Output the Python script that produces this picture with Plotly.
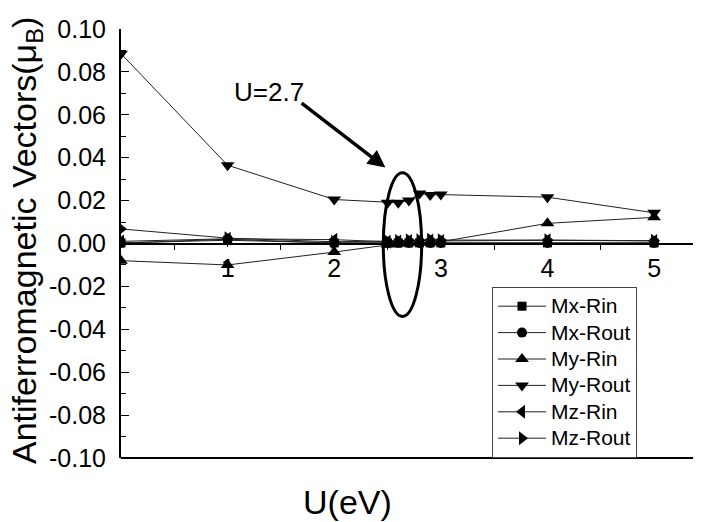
import plotly.graph_objects as go

# ---- data ----
U = [0, 1, 2, 2.5, 2.6, 2.7, 2.8, 2.9, 3, 4, 5]
mx_rin = [0.0003, 0.0015, 0.0003, 0.0003, 0.0003, 0.0003, 0.0003, 0.0003, 0.0003, 0.0003, 0.0003]
mx_rout = [0.0002, 0.002, 0.0002, 0.0002, 0.0002, 0.0002, 0.0002, 0.0002, 0.0002, 0.0002, 0.0002]
my_rin = [-0.008, -0.0100, -0.004, -0.0005, 0.0, 0.0003, 0.0005, 0.0005, 0.0008, 0.0094, 0.0122]
my_rout = [0.0885, 0.0365, 0.0205, 0.0190, 0.0190, 0.0200, 0.0233, 0.0226, 0.0228, 0.0216, 0.0143]
mz_rin = [0.001, 0.0022, 0.0018, 0.0008, 0.001, 0.0012, 0.0012, 0.0014, 0.0012, 0.0015, 0.0012]
mz_rout = [0.0068, 0.0025, 0.0008, 0.001, 0.0012, 0.0015, 0.0016, 0.0018, 0.0016, 0.0016, 0.0013]

series_names = ["Mx-Rin", "Mx-Rout", "My-Rin", "My-Rout", "Mz-Rin", "Mz-Rout"]
series_vals = [mx_rin, mx_rout, my_rin, my_rout, mz_rin, mz_rout]
symbols = ["square", "circle", "triangle-up", "triangle-down", "triangle-left", "triangle-right"]
sizes = [9, 10, 12, 12, 12, 12]

x_ticks = [1, 2, 3, 4, 5]
y_ticks = [-0.10, -0.08, -0.06, -0.04, -0.02, 0.0, 0.02, 0.04, 0.06, 0.08, 0.10]

FONT = "Liberation Sans, Arial, sans-serif"

# the page body adds an 8px offset; compensate so the plot lands where the reference has it
W, H = 693, 514
L, R, T, B = 113, 0, 21, 64
PW = W - L - R
PH = H - T - B

fig = go.Figure()
for name, vals, sym, sz in zip(series_names, series_vals, symbols, sizes):
    fig.add_trace(go.Scatter(
        x=U, y=vals, name=f'<span style="font-size:21px">{name}</span>',
        mode="lines+markers",
        line=dict(color="#222222", width=1),
        marker=dict(symbol=sym, size=sz, color="black", line=dict(width=0)),
    ))

fig.update_layout(
    width=W, height=H,
    margin=dict(l=L, r=R, t=T, b=B),
    paper_bgcolor="white", plot_bgcolor="white",
    font=dict(family=FONT, color="black"),
    showlegend=True,
    legend=dict(
        x=(492 - 121) / PW, y=(458 - 287) / PH, xanchor="left", yanchor="top",
        bordercolor="#444444", borderwidth=1, bgcolor="white",
        font=dict(size=18, family=FONT), tracegroupgap=0, itemwidth=48,
    ),
    xaxis=dict(
        range=[0, 5.44], anchor="free", position=0.5,
        showline=True, linecolor="black", linewidth=2,
        showgrid=False, zeroline=False,
        tickmode="array", tickvals=x_ticks, ticktext=[str(v) for v in x_ticks],
        ticks="outside", ticklen=2, tickwidth=1, tickcolor="black",
        tickfont=dict(size=25, family=FONT),
        minor=dict(tickmode="array", tickvals=[0.5, 1.5, 2.5, 3.5, 4.5],
                   ticks="outside", ticklen=5, tickcolor="black"),
    ),
    xaxis2=dict(
        range=[0, 5.44], overlaying="x", side="top", anchor="y",
        showline=True, linecolor="#333333", linewidth=2,
        showgrid=False, zeroline=False, showticklabels=False,
        tickmode="array", tickvals=[0.5, 1, 1.5, 2, 2.5, 3, 3.5, 4, 4.5, 5],
        ticks="inside", ticklen=4, tickcolor="black",
    ),
    yaxis=dict(
        range=[-0.1, 0.1], anchor="x",
        showline=True, linecolor="black", linewidth=2,
        showgrid=False, zeroline=False,
        tickmode="array", tickvals=y_ticks, ticktext=[f"{v:.2f}" for v in y_ticks],
        ticks="inside", ticklen=8, tickcolor="black",
        tickfont=dict(size=25, family=FONT), ticklabelstandoff=8,
        minor=dict(dtick=0.01, tick0=0, ticks="inside", ticklen=5, tickcolor="black"),
    ),
)

# bottom border of the frame
fig.add_shape(type="line", xref="paper", yref="paper", x0=0, x1=1, y0=0, y1=0,
              line=dict(color="black", width=2))

# ellipse around U=2.5..3
fig.add_shape(type="circle", xref="x", yref="y", x0=2.46, x1=2.82, y0=-0.034, y1=0.033,
              line=dict(color="black", width=3))

# arrow + label
fig.add_annotation(x=2.48, y=0.0354, ax=1.68, ay=0.0660, xref="x", yref="y",
                   axref="x", ayref="y", text="", showarrow=True,
                   arrowhead=2, arrowsize=1, arrowwidth=3.5, arrowcolor="black")
fig.add_annotation(x=1.385, y=0.0705, xref="x", yref="y", text="U=2.7",
                   showarrow=False, font=dict(size=26, family=FONT),
                   xanchor="center", yanchor="middle")

# axis titles
fig.add_annotation(x=(26 - 121) / PW, y=(458 - 241) / PH, xref="paper", yref="paper",
                   text="Antiferromagnetic Vectors(μ<sub>B</sub>)", textangle=-90,
                   showarrow=False, font=dict(size=34, family=FONT),
                   xanchor="center", yanchor="middle")
fig.add_annotation(x=(347 - 121) / PW, y=(458 - 502) / PH, xref="paper", yref="paper",
                   text="U(eV)", showarrow=False, font=dict(size=34, family=FONT),
                   xanchor="center", yanchor="middle")

fig.write_html("out.html")
